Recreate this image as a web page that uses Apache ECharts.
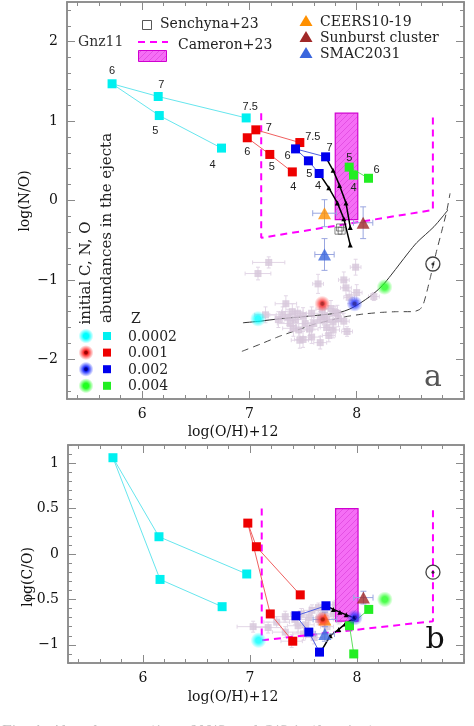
<!DOCTYPE html>
<html><head><meta charset="utf-8">
<script src="https://cdn.jsdelivr.net/npm/echarts@6/dist/echarts.min.js"></script>
<style>html,body{margin:0;padding:0;background:#fff}#c{width:474px;height:726px}</style>
</head><body><div id="c"></div>
<script>
// ---------------- DATA ----------------
const cyanMass = ['7.5','7','6','5','4'];
const cyanOH = [6.97, 6.15, 5.72, 6.16, 6.74];
const cyanNO = [1.04, 1.31, 1.47, 1.07, 0.66];
const cyanCO = [-0.22, 0.19, 1.06, -0.28, -0.58];

const redMass = ['7.5','7','6','5','4'];
const redOH = [7.47, 7.06, 6.98, 7.19, 7.40];
const redNO = [0.73, 0.89, 0.79, 0.58, 0.36];
const redCO = [-0.45, 0.08, 0.34, -0.66, -0.96];

const blueMass = ['7','6','5','4'];
const blueOH = [7.71, 7.43, 7.55, 7.65];
const blueNO = [0.55, 0.65, 0.50, 0.34];
const blueCO = [-0.57, -0.68, -0.86, -1.08];

const greenMass = ['6','5','4'];
const greenOH = [8.11, 7.93, 7.97];
const greenNO = [0.28, 0.42, 0.32];
const greenCO = [-0.61, -0.79, -1.10];

// dilution tracks (black, triangles)
const trackA_OH_N = [7.71, 7.78, 7.84, 7.90, 7.94];
const trackA_NO   = [0.55, 0.38, 0.19, -0.03, -0.34];
const trackB_OH_N = [7.65, 7.74, 7.82, 7.88, 7.94];
const trackB_NO   = [0.34, 0.16, -0.03, -0.23, -0.56];
const trackA_OH_C = [7.71, 7.78, 7.84, 7.90, 7.97];
const trackA_CO   = [-0.57, -0.61, -0.64, -0.67, -0.70];
const trackB_OH_C = [7.66, 7.75, 7.83, 7.89, 7.97];
const trackB_CO   = [-1.08, -0.90, -0.83, -0.77, -0.71];

// initial abundances (glow circles), Z = 0.0002, 0.001, 0.002, 0.004
const zValues = ['0.0002','0.001','0.002','0.004'];
const initOH = [7.08, 7.68, 7.98, 8.26];
const initNO = [-1.49, -1.30, -1.30, -1.09];
const initCO = [-0.95, -0.72, -0.70, -0.50];

// observed objects: CEERS10-19, Sunburst cluster, SMAC2031
const obsNames = ['CEERS10-19','Sunburst cluster','SMAC2031'];
const obsOH = [7.70, 8.06, 7.70];
const obsOHerr = [0.11, 0.09, 0.09];
const obsNO = [-0.16, -0.28, -0.68];
const obsNOerr = [0.17, 0.20, 0.20];
const obsCO = [-0.72, -0.48, -0.88];
const obsCOerr = [0.08, 0.07, 0.08];

// Senchyna+23
const senOH = [7.83, 7.86, 7.845];
const senNO = [-0.38, -0.38, -0.34];

// Cameron+23 (dashed) and GN-z11 box
const camOH = [7.11, 7.11, 8.71, 8.71];
const camNO = [1.10, -0.47, -0.12, 1.06];
const camCO = [0.50, -0.95, -0.74, 0.49];
const gnzOH = [7.80, 8.01];
const gnzNO = [-0.24, 1.10];
const gnzCO = [-0.74, 0.50];

// Sun
const sunOH = [8.71];
const sunNO = [-0.80];
const sunCO = [-0.20];

// curves (N/O panel)
const solidOH = [6.94, 7.10, 7.28, 7.45, 7.60, 7.75, 7.84, 7.93, 8.00, 8.08, 8.16, 8.24, 8.32, 8.40, 8.48, 8.56, 8.64, 8.72, 8.79, 8.85];
const solidNO = [-1.54, -1.52, -1.49, -1.47, -1.45, -1.43, -1.41, -1.37, -1.32, -1.25, -1.17, -1.07, -0.94, -0.80, -0.66, -0.53, -0.43, -0.33, -0.22, -0.12];
const dashOH = [6.93, 7.10, 7.28, 7.45, 7.60, 7.75, 7.91, 8.06, 8.22, 8.38, 8.53, 8.59, 8.62, 8.65, 8.69, 8.74, 8.79, 8.84, 8.87];
const dashNO = [-1.90, -1.81, -1.71, -1.63, -1.56, -1.51, -1.46, -1.43, -1.41, -1.40, -1.40, -1.37, -1.31, -1.17, -0.95, -0.66, -0.40, -0.13, 0.09];

// grey comparison sample (N/O panel): O/H, N/O, errO/H, errN/O
const greyOH_N = [7.18, 7.08, 7.99, 7.64, 7.88, 7.90, 8.00, 8.16, 7.34, 7.15, 7.31, 7.40, 7.45, 7.50, 7.58, 7.68, 7.76, 7.80, 7.43, 7.52, 7.66, 7.72, 7.78, 7.83, 7.41, 7.46, 7.72, 7.78, 7.91, 7.58, 7.74, 7.50, 7.66, 7.38, 7.56, 7.82, 7.88, 7.60, 7.47, 7.70, 7.36, 7.27, 7.93];
const greyNO   = [-0.78, -0.92, -0.84, -1.05, -1.00, -1.10, -1.16, -1.21, -1.30, -1.44, -1.44, -1.40, -1.42, -1.45, -1.42, -1.37, -1.36, -1.41, -1.50, -1.55, -1.50, -1.50, -1.53, -1.49, -1.61, -1.63, -1.60, -1.63, -1.65, -1.72, -1.70, -1.75, -1.79, -1.55, -1.62, -1.42, -1.52, -1.55, -1.76, -1.45, -1.47, -1.50, -1.22];
const greyOHerr_N = [0.15, 0.12, 0.05, 0.05, 0.05, 0.05, 0.05, 0.05, 0.10, 0.10, 0.12, 0.10, 0.08, 0.10, 0.08, 0.06, 0.06, 0.05, 0.10, 0.08, 0.06, 0.06, 0.05, 0.05, 0.10, 0.08, 0.06, 0.06, 0.05, 0.08, 0.06, 0.08, 0.06, 0.12, 0.08, 0.05, 0.05, 0.08, 0.08, 0.06, 0.12, 0.12, 0.05];
const greyNOerr = [0.07, 0.08, 0.10, 0.12, 0.10, 0.10, 0.10, 0.05, 0.10, 0.10, 0.10, 0.10, 0.08, 0.10, 0.08, 0.10, 0.10, 0.08, 0.08, 0.08, 0.10, 0.08, 0.08, 0.10, 0.10, 0.08, 0.08, 0.10, 0.06, 0.08, 0.08, 0.10, 0.08, 0.10, 0.08, 0.10, 0.10, 0.08, 0.10, 0.10, 0.10, 0.10, 0.08];

// grey comparison sample (C/O panel)
const greyOH_C = [7.03, 7.17, 7.33, 7.45, 7.58, 7.64, 7.64, 7.78, 7.87, 7.90, 7.50, 7.33, 7.39, 7.55, 7.70, 7.72, 7.48, 7.25, 7.60, 7.80, 7.95, 7.42, 7.68, 7.52, 7.83];
const greyCO   = [-0.80, -0.81, -0.69, -0.79, -0.62, -0.59, -0.72, -0.66, -0.51, -0.58, -0.88, -0.86, -0.96, -0.70, -0.62, -0.80, -0.66, -0.75, -0.92, -0.56, -0.62, -0.72, -0.68, -0.78, -0.72];
const greyOHerr_C = [0.15, 0.12, 0.12, 0.10, 0.08, 0.08, 0.08, 0.06, 0.05, 0.05, 0.10, 0.12, 0.10, 0.08, 0.06, 0.06, 0.10, 0.12, 0.08, 0.05, 0.05, 0.10, 0.06, 0.08, 0.05];
const greyCOerr = [0.06, 0.06, 0.06, 0.07, 0.06, 0.05, 0.06, 0.05, 0.05, 0.05, 0.07, 0.06, 0.07, 0.06, 0.05, 0.06, 0.06, 0.06, 0.07, 0.05, 0.05, 0.06, 0.05, 0.06, 0.05];

// axes / ticks
const X_MIN = 5.3, X_MAX = 9.0;
const xMajor = [6, 7, 8];
const NO_MIN = -2.5, NO_MAX = 2.5;
const noMajor = [-2, -1, 0, 1, 2];
const CO_MIN = -1.2, CO_MAX = 1.2;
const coMajor = [-1, -0.5, 0, 0.5, 1];
function ticksBetween(a, b, step, majors) {
  const out = [];
  for (let k = Math.ceil(a / step - 1e-9); k * step <= b + 1e-9; k++) {
    const v = +(k * step).toFixed(4);
    if (!majors.some(m => Math.abs(m - v) < 1e-6)) out.push(v);
  }
  return out;
}
const xMinor = ticksBetween(X_MIN, X_MAX, 0.2, xMajor);
const noMinor = ticksBetween(NO_MIN, NO_MAX, 0.2, noMajor);
const coMinor = ticksBetween(CO_MIN, CO_MAX, 0.1, coMajor);

// label placement (style) tables: [dx, dy] pixels
const cyanLabOff = [[4,-11],[3,-12],[0,-13],[-4,15],[-9,17]];
const redLabOff = [[13,-6],[13,-2],[0,14],[2,13],[1,15]];
const blueLabOff = [[4,-9],[-8,7],[1,13],[-1,12]];
const greenLabOff = [[8,-8],[0,-9],[0,13]];

// ---------------- STYLE ----------------
const SERIF = 'DejaVu Serif';
const SANS = 'Liberation Sans';
const AX = '#8a8a8a';
const C_CYAN = '#00f0f0', C_RED = '#ee0000', C_BLUE = '#0000ee', C_GREEN = '#22ee22';
const L_CYAN = '#66e6ee', L_RED = '#f06060', L_BLUE = '#5060e0', L_GREEN = '#60e060';
const MAG = '#ff00ff';
const GREY_PT = '#d6c6da', GREY_ERR = '#e2d6e6';
const TRI = ['#ff9000', '#a02828', '#3a66dd'];

const hatch = document.createElement('canvas');
hatch.width = 6; hatch.height = 6;
(function () {
  const g = hatch.getContext('2d');
  g.fillStyle = '#f56ef5'; g.fillRect(0, 0, 6, 6);
  g.strokeStyle = '#dd44dd'; g.lineWidth = 0.7;
  g.beginPath(); g.moveTo(0, 6); g.lineTo(6, 0); g.moveTo(-3, 3); g.lineTo(3, -3); g.moveTo(3, 9); g.lineTo(9, 3); g.stroke();
})();

function fmt(v) { return v < 0 ? '\u2212' + Math.abs(v) : String(v); }

function mkAxes(dim, grid, min, max, majors, minors) {
  const pos = dim === 'x' ? ['bottom', 'top'] : ['left', 'right'];
  const base = { type: 'value', gridIndex: grid, min: min, max: max, splitLine: { show: false },
    axisLine: { show: true, onZero: false, lineStyle: { color: AX, width: 1.5 } } };
  const tick = (vals, len) => ({ show: true, inside: true, length: len, customValues: vals, lineStyle: { color: AX, width: 1 } });
  return [
    Object.assign({}, base, { position: pos[0], axisTick: tick(majors, 8),
      axisLabel: { show: true, customValues: majors, formatter: fmt, margin: dim === 'x' ? 8 : 9, color: '#111', fontFamily: SERIF, fontSize: 14 } }),
    Object.assign({}, base, { position: pos[0], axisTick: tick(minors, 4), axisLabel: { show: false } }),
    Object.assign({}, base, { position: pos[1], axisTick: tick(majors, 8), axisLabel: { show: false } }),
    Object.assign({}, base, { position: pos[1], axisTick: tick(minors, 4), axisLabel: { show: false } })
  ];
}

const zip = (a, b) => a.map((v, i) => [v, b[i]]);

function errSeries(ax, xs, ys, exs, eys, color, z, cap) {
  return {
    type: 'custom', xAxisIndex: ax, yAxisIndex: ax, z: z, silent: true,
    data: xs.map((v, i) => [v, ys[i], exs[i], eys[i]]),
    encode: { x: 0, y: 1 },
    renderItem: function (params, api) {
      const x = api.value(0), y = api.value(1), ex = api.value(2), ey = api.value(3);
      const a = api.coord([x - ex, y]), b = api.coord([x + ex, y]);
      const c = api.coord([x, y - ey]), d = api.coord([x, y + ey]);
      const st = { stroke: color, lineWidth: 1 };
      const k = cap || 3;
      return { type: 'group', children: [
        { type: 'line', shape: { x1: a[0], y1: a[1], x2: b[0], y2: b[1] }, style: st },
        { type: 'line', shape: { x1: c[0], y1: c[1], x2: d[0], y2: d[1] }, style: st },
        { type: 'line', shape: { x1: a[0], y1: a[1] - k, x2: a[0], y2: a[1] + k }, style: st },
        { type: 'line', shape: { x1: b[0], y1: b[1] - k, x2: b[0], y2: b[1] + k }, style: st },
        { type: 'line', shape: { x1: c[0] - k, y1: c[1], x2: c[0] + k, y2: c[1] }, style: st },
        { type: 'line', shape: { x1: d[0] - k, y1: d[1], x2: d[0] + k, y2: d[1] }, style: st }
      ] };
    }
  };
}

function boxSeries(ax, xr, yr) {
  return {
    type: 'custom', xAxisIndex: ax, yAxisIndex: ax, z: 3, silent: true,
    data: [[xr[0], yr[0], xr[1], yr[1]]],
    encode: { x: [0, 2], y: [1, 3] },
    renderItem: function (params, api) {
      const p0 = api.coord([api.value(0), api.value(3)]);
      const p1 = api.coord([api.value(2), api.value(1)]);
      return { type: 'rect', shape: { x: p0[0], y: p0[1], width: p1[0] - p0[0], height: p1[1] - p0[1] },
        style: { fill: { image: hatch, repeat: 'repeat' }, stroke: '#d000d0', lineWidth: 1.2 } };
    }
  };
}

function modelSeries(ax, xs, ys, names, offs, col, lcol, withLabels) {
  return {
    type: 'line', xAxisIndex: ax, yAxisIndex: ax, z: 6,
    data: xs.map((v, i) => ({ name: names[i], value: [v, ys[i]], label: { offset: offs[i] } })),
    symbol: 'rect', symbolSize: 9, showSymbol: true,
    lineStyle: { color: lcol, width: 1 }, itemStyle: { color: col },
    label: { show: withLabels, position: 'inside', formatter: '{b}', fontFamily: SANS, fontSize: 11, color: '#222' },
    animation: false
  };
}

function trackSeries(ax, xs, ys) {
  return { type: 'line', xAxisIndex: ax, yAxisIndex: ax, z: 5, data: zip(xs, ys),
    symbol: 'triangle', symbolSize: 5, lineStyle: { color: '#000', width: 1.5 }, itemStyle: { color: '#000' } };
}

function glowGrad(c, a0, core) {
  return { type: 'radial', x: 0.5, y: 0.5, r: 0.5, colorStops: [
    { offset: 0, color: core || c }, { offset: 0.18, color: core || c },
    { offset: 0.35, color: c }, { offset: 1, color: a0 } ] };
}
const glowCols = [['#00ffff', 'rgba(0,255,255,0)', null], ['#ff3030', 'rgba(255,60,60,0)', '#a00000'],
  ['#2030ff', 'rgba(40,60,255,0)', '#000090'], ['#20ff20', 'rgba(40,255,40,0)', null]];

function glowSeries(ax, xs, ys) {
  return { type: 'scatter', xAxisIndex: ax, yAxisIndex: ax, z: 8, symbol: 'circle', symbolSize: 16,
    data: xs.map((v, i) => ({ value: [v, ys[i]], itemStyle: { color: glowGrad(glowCols[i][0], glowCols[i][1], glowCols[i][2]) } })) };
}

function sunSeries(ax, xs, ys) {
  return [
    { type: 'scatter', xAxisIndex: ax, yAxisIndex: ax, z: 8, symbol: 'circle', symbolSize: 14, data: zip(xs, ys),
      itemStyle: { color: 'rgba(0,0,0,0)', borderColor: '#111', borderWidth: 1.3 } },
    { type: 'scatter', xAxisIndex: ax, yAxisIndex: ax, z: 8, symbol: 'circle', symbolSize: 3, data: zip(xs, ys),
      itemStyle: { color: '#111' } }
  ];
}

function obsSeries(ax, ys, yerrs) {
  const out = [errSeries(ax, obsOH, ys, obsOHerr, yerrs, '#9aa6e0', 7, 3)];
  obsNames.forEach((n, i) => out.push({ type: 'scatter', xAxisIndex: ax, yAxisIndex: ax, z: 7, symbol: 'triangle', symbolSize: [13, 12],
    data: [[obsOH[i], ys[i]]], itemStyle: { color: TRI[i] } }));
  return out;
}

const series = [];
// ----- panel a (axis index 0) -----
series.push(errSeries(0, greyOH_N, greyNO, greyOHerr_N, greyNOerr, GREY_ERR, 1, 2));
series.push({ type: 'scatter', xAxisIndex: 0, yAxisIndex: 0, z: 2, symbol: 'rect', symbolSize: 7, data: zip(greyOH_N, greyNO), itemStyle: { color: GREY_PT } });
series.push({ type: 'line', xAxisIndex: 0, yAxisIndex: 0, z: 2, data: zip(solidOH, solidNO), smooth: 0.3, symbol: 'none', lineStyle: { color: '#333', width: 1 } });
series.push({ type: 'line', xAxisIndex: 0, yAxisIndex: 0, z: 2, data: zip(dashOH, dashNO), smooth: 0.15, symbol: 'none', lineStyle: { color: '#444', width: 1, type: [7, 5] } });
series.push(boxSeries(0, gnzOH, gnzNO));
series.push({ type: 'line', xAxisIndex: 0, yAxisIndex: 0, z: 4, data: zip(camOH, camNO), symbol: 'none', lineStyle: { color: MAG, width: 2, type: [7, 5] } });
series.push(trackSeries(0, trackA_OH_N, trackA_NO));
series.push(trackSeries(0, trackB_OH_N, trackB_NO));
series.push(modelSeries(0, cyanOH, cyanNO, cyanMass, cyanLabOff, C_CYAN, L_CYAN, true));
series.push(modelSeries(0, redOH, redNO, redMass, redLabOff, C_RED, L_RED, true));
series.push(modelSeries(0, blueOH, blueNO, blueMass, blueLabOff, C_BLUE, L_BLUE, true));
series.push(modelSeries(0, greenOH, greenNO, greenMass, greenLabOff, C_GREEN, L_GREEN, true));
series.push({ type: 'scatter', xAxisIndex: 0, yAxisIndex: 0, z: 6, symbol: 'rect', symbolSize: 7, data: zip(senOH, senNO),
  itemStyle: { color: 'rgba(255,255,255,0)', borderColor: '#444', borderWidth: 0.8 } });
obsSeries(0, obsNO, obsNOerr).forEach(s => series.push(s));
series.push(glowSeries(0, initOH, initNO));
sunSeries(0, sunOH, sunNO).forEach(s => series.push(s));

// ----- panel b (axis index 4) -----
series.push(errSeries(4, greyOH_C, greyCO, greyOHerr_C, greyCOerr, GREY_ERR, 1, 2));
series.push({ type: 'scatter', xAxisIndex: 4, yAxisIndex: 4, z: 2, symbol: 'rect', symbolSize: 7, data: zip(greyOH_C, greyCO), itemStyle: { color: GREY_PT } });
series.push(boxSeries(4, gnzOH, gnzCO));
series.push({ type: 'line', xAxisIndex: 4, yAxisIndex: 4, z: 4, data: zip(camOH, camCO), symbol: 'none', lineStyle: { color: MAG, width: 2, type: [7, 5] } });
series.push(trackSeries(4, trackA_OH_C, trackA_CO));
series.push(trackSeries(4, trackB_OH_C, trackB_CO));
series.push(modelSeries(4, cyanOH, cyanCO, cyanMass, cyanLabOff, C_CYAN, L_CYAN, false));
series.push(modelSeries(4, redOH, redCO, redMass, redLabOff, C_RED, L_RED, false));
series.push(modelSeries(4, blueOH, blueCO, blueMass, blueLabOff, C_BLUE, L_BLUE, false));
series.push(modelSeries(4, greenOH, greenCO, greenMass, greenLabOff, C_GREEN, L_GREEN, false));
obsSeries(4, obsCO, obsCOerr).forEach(s => series.push(s));
series.push(glowSeries(4, initOH, initCO));
sunSeries(4, sunOH, sunCO).forEach(s => series.push(s));

// ---------------- GRAPHIC (legends, titles) ----------------
const G = [];
const txt = (x, y, t, o) => G.push(Object.assign({ type: 'text', x: x, y: y, style: Object.assign({ text: t, fill: '#222', font: '14px "' + SERIF + '"', textAlign: 'left', textVerticalAlign: 'middle' }, o || {}) }));
// axis titles
txt(233, 432, 'log(O/H)+12', { textAlign: 'center', font: '14px "' + SERIF + '"', fill: '#111' });
txt(233, 697, 'log(O/H)+12', { textAlign: 'center', font: '14px "' + SERIF + '"', fill: '#111' });
G.push({ type: 'text', x: 25, y: 201, rotation: Math.PI / 2, style: { text: 'log(N/O)', fill: '#111', font: '14px "' + SERIF + '"', textAlign: 'center', textVerticalAlign: 'middle' } });
G.push({ type: 'text', x: 28, y: 577, rotation: Math.PI / 2, style: { text: 'log(C/O)', fill: '#111', font: '14px "' + SERIF + '"', textAlign: 'center', textVerticalAlign: 'middle' } });
// top legend
G.push({ type: 'rect', shape: { x: 142.5, y: 20.5, width: 9, height: 9 }, style: { fill: 'none', stroke: '#444', lineWidth: 0.9 } });
txt(160, 24, 'Senchyna+23');
txt(78, 42, 'Gnz11', { fill: '#333' });
G.push({ type: 'line', shape: { x1: 138, y1: 42, x2: 168, y2: 42 }, style: { stroke: MAG, lineWidth: 2, lineDash: [7, 5] } });
txt(178, 45, 'Cameron+23');
G.push({ type: 'rect', shape: { x: 138.5, y: 50.5, width: 28, height: 11 }, style: { fill: { image: hatch, repeat: 'repeat' }, stroke: '#d000d0', lineWidth: 1 } });
obsNames.forEach((n, i) => {
  const cy = 21 + i * 16;
  G.push({ type: 'polygon', shape: { points: [[306, cy - 6], [312.5, cy + 5], [299.5, cy + 5]] }, style: { fill: TRI[i] } });
  txt(320, cy + 1, n);
});
// left legend
G.push({ type: 'text', x: 86, y: 273, rotation: Math.PI / 2, style: { text: 'initial C, N, O', fill: '#222', font: '15px "' + SERIF + '"', textAlign: 'center', textVerticalAlign: 'middle' } });
G.push({ type: 'text', x: 107, y: 228, rotation: Math.PI / 2, style: { text: 'abundances in the ejecta', fill: '#222', font: '15px "' + SERIF + '"', textAlign: 'center', textVerticalAlign: 'middle' } });
txt(131, 319, 'Z');
const sqCols = [C_CYAN, C_RED, C_BLUE, C_GREEN];
zValues.forEach((z, i) => {
  const cy = 336 + i * 16.6;
  G.push({ type: 'circle', shape: { cx: 86, cy: cy, r: 7.5 }, style: { fill: new echarts.graphic.RadialGradient(0.5, 0.5, 0.5, glowGrad(glowCols[i][0], glowCols[i][1], glowCols[i][2]).colorStops) } });
  G.push({ type: 'rect', shape: { x: 103, y: cy - 4, width: 8, height: 8 }, style: { fill: sqCols[i] } });
  txt(128, cy + 1, z);
});
// panel letters
txt(433, 378, 'a', { textAlign: 'center', font: '30px "' + SERIF + '"', fill: '#555' });
txt(435, 640, 'b', { textAlign: 'center', font: '30px "' + SERIF + '"', fill: '#111' });
// partial caption (cut by the page edge)
txt(2, 732, 'Fig. 1. Abundance ratios of N/O and C/O in the ejecta', { font: '14px "' + SERIF + '"', fill: '#c4c4c4' });

const option = {
  animation: false,
  backgroundColor: '#fff',
  grid: [
    { left: 67, top: 2, width: 397, height: 397 },
    { left: 68, top: 445, width: 396, height: 218 }
  ],
  xAxis: [].concat(mkAxes('x', 0, X_MIN, X_MAX, xMajor, xMinor), mkAxes('x', 1, X_MIN, X_MAX, xMajor, xMinor)),
  yAxis: [].concat(mkAxes('y', 0, NO_MIN, NO_MAX, noMajor, noMinor), mkAxes('y', 1, CO_MIN, CO_MAX, coMajor, coMinor)),
  series: series,
  graphic: G
};
const chart = echarts.init(document.getElementById('c'), null, { renderer: 'canvas' });
chart.setOption(option);
</script>
</body></html>
